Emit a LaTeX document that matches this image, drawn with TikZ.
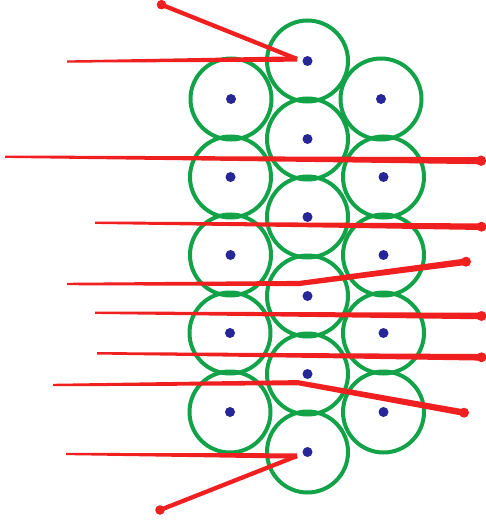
\documentclass[tikz,border=0pt]{standalone}
\usetikzlibrary{calc}
\definecolor{cgreen}{RGB}{18,162,72}
\definecolor{cblue}{RGB}{38,38,152}
\definecolor{cred}{RGB}{240,32,32}
\newcommand\tline[4]{\fill[cred] ($(#1)+(0,#3)$) -- ($(#2)+(0,#4)$) -- ($(#2)-(0,#4)$) -- ($(#1)-(0,#3)$) -- cycle;}
\begin{document}
\begin{tikzpicture}[x=1pt,y=-1pt,
  circ/.style={circle,draw=cgreen,line width=4pt,minimum size=81pt,inner sep=0pt},
  bdot/.style={fill=cblue},
  rdot/.style={fill=cred},
  slant/.style={draw=cred,line width=4.3pt}]
\useasboundingbox (0,0) rectangle (486,524);
% circles
\foreach \n/\x/\y in {m1/307.5/61,m2/307.5/139,m3/307.5/217,m4/307.5/296,m5/307.5/374,m6/307.5/452,
  l1/231/99,l2/230.5/177,l3/230.5/255,l4/230/333,l5/230/412,
  r1/381/99,r2/383.5/177,r3/383.5/255,r4/383.5/333,r5/383.5/412}{
  \node[circ] (\n) at (\x,\y) {};
  \fill[bdot] (\n.center) circle (5);
}
% red line coordinates
\coordinate (a1) at (67,61.5); \coordinate (t1) at (297,59); \coordinate (d1) at (161.5,4.7);
\coordinate (a2) at (5,156.7); \coordinate (d2) at (481,160.7);
\coordinate (a3) at (95,222.7); \coordinate (d3) at (481.5,226.7);
\coordinate (a4) at (67,284); \coordinate (k4) at (299,283.5); \coordinate (d4) at (466,261.7);
\coordinate (a5) at (95,312.7); \coordinate (d5) at (481.5,316);
\coordinate (a6) at (97,353.3); \coordinate (d6) at (481.5,357.3);
\coordinate (a7) at (53,385); \coordinate (k7) at (298,382.7); \coordinate (d7) at (464,412.7);
\coordinate (a8) at (66,454); \coordinate (t8) at (297,456); \coordinate (d8) at (160,510);
% red lines
\tline{a1}{t1}{1.1}{2.7}
\draw[slant] (t1) -- (d1);
\fill[rdot] (d1) circle (4.8);
\tline{a2}{d2}{1.2}{3.5}
\fill[rdot] (d2) circle (5.2);
\tline{a3}{d3}{1.2}{3.3}
\fill[rdot] (d3) circle (5);
\tline{a4}{k4}{1.2}{2.6}
\tline{k4}{d4}{2.6}{3.3}
\fill[rdot] (d4) circle (5);
\tline{a5}{d5}{1.2}{3.3}
\fill[rdot] (d5) circle (5);
\tline{a6}{d6}{1.2}{3.3}
\fill[rdot] (d6) circle (5);
\tline{a7}{k7}{1.2}{2.6}
\tline{k7}{d7}{2.6}{3.3}
\fill[rdot] (d7) circle (5);
\tline{a8}{t8}{1.1}{2.7}
\draw[slant] (t8) -- (d8);
\fill[rdot] (d8) circle (4.8);
\end{tikzpicture}
\end{document}
